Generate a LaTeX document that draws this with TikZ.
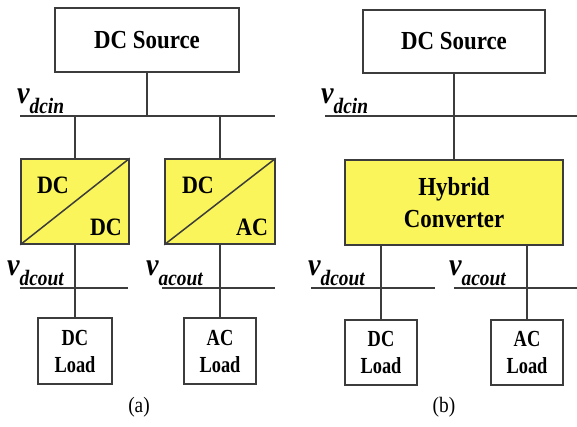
\documentclass[tikz,border=0pt]{standalone}
\usepackage{fontspec}
\setmainfont{Liberation Serif}
\newfontfamily\labfont[FakeStretch=0.88]{Liberation Serif}
\newfontfamily\loadfont[FakeStretch=0.8]{Liberation Serif}
\definecolor{convfill}{RGB}{250,245,90}
\definecolor{ink}{RGB}{60,60,60}

% bus voltage label: large italic v with a lowered subscript
\newcommand{\busv}[1]{{\fontsize{32}{32}\selectfont\bfseries\itshape v}\raisebox{-10pt}{\fontsize{22}{22}\selectfont\bfseries\itshape #1}}

\begin{document}
\begin{tikzpicture}[x=1pt,y=-1pt,
  box/.style={draw=ink,line width=1.5pt,inner sep=0pt,align=center,
              font=\labfont\bfseries\fontsize{26}{32}\selectfont},
  convbox/.style={box,fill=convfill},
  loadbox/.style={box,font=\loadfont\bfseries\fontsize{23}{27}\selectfont},
  convtext/.style={inner sep=0pt,font=\labfont\bfseries\fontsize{25}{27}\selectfont},
  wire/.style={draw=ink,line width=1.5pt},
  vlab/.style={anchor=base west,inner sep=0pt,font=\labfont},
  figcap/.style={inner sep=0pt,font=\labfont\fontsize{22}{22}\selectfont}]
\fill[white] (0,0) rectangle (577,426);
\useasboundingbox (0,0) rectangle (577,426);

% ---------------- (a) separate converters ----------------
\node[box,minimum width=184pt,minimum height=64pt] (srcA) at (147,40) {DC Source};
\node[convbox,minimum width=108pt,minimum height=85pt] (convA) at (75,201.5) {};
\node[convbox,minimum width=110pt,minimum height=85pt] (convB) at (220,201.5) {};
\draw[wire] (convA.south west) -- (convA.north east);
\draw[wire] (convB.south west) -- (convB.north east);
\node[convtext] (convAin)  at (53,185) {DC};
\node[convtext] (convAout) at (106,227) {DC};
\node[convtext] (convBin)  at (198,185) {DC};
\node[convtext] (convBout) at (252,227) {AC};
\node[loadbox,minimum width=74pt,minimum height=66pt] (loadA1) at (75,351) {DC\\Load};
\node[loadbox,minimum width=72pt,minimum height=66pt] (loadA2) at (220,351) {AC\\Load};

\coordinate (inA-l) at (20,116);  \coordinate (inA-r) at (275,116);
\coordinate (dcA-l) at (20,288);  \coordinate (dcA-r) at (128,288);
\coordinate (acA-l) at (162,288); \coordinate (acA-r) at (275,288);
\draw[wire] (inA-l) -- (inA-r);
\draw[wire] (dcA-l) -- (dcA-r);
\draw[wire] (acA-l) -- (acA-r);
\draw[wire] (srcA.south) -- (srcA.south |- inA-l);
\draw[wire] (convA.north |- inA-l) -- (convA.north);
\draw[wire] (convB.north |- inA-l) -- (convB.north);
\draw[wire] (convA.south) -- (loadA1.north);
\draw[wire] (convB.south) -- (loadA2.north);

\node[vlab] (vinA)  at (17,103)  {\busv{dcin}};
\node[vlab] (vdcA)  at (7,275)   {\busv{dcout}};
\node[vlab] (vacA)  at (146,275) {\busv{acout}};
\node[figcap] (capA) at (139,407) {(a)};

% ---------------- (b) hybrid converter ----------------
\node[box,minimum width=182pt,minimum height=63pt] (srcB) at (454,41.5) {DC Source};
\node[convbox,minimum width=218pt,minimum height=85pt] (hyb) at (454,202.5) {Hybrid\\Converter};
\node[loadbox,minimum width=72pt,minimum height=65pt] (loadB1) at (381,352.5) {DC\\Load};
\node[loadbox,minimum width=72pt,minimum height=65pt] (loadB2) at (527,352.5) {AC\\Load};

\coordinate (inB-l) at (325,116); \coordinate (inB-r) at (577,116);
\coordinate (dcB-l) at (311,288); \coordinate (dcB-r) at (435,288);
\coordinate (acB-l) at (454,288); \coordinate (acB-r) at (577,288);
\draw[wire] (inB-l) -- (inB-r);
\draw[wire] (dcB-l) -- (dcB-r);
\draw[wire] (acB-l) -- (acB-r);
\draw[wire] (srcB.south) -- (hyb.north);
\draw[wire] (loadB1.north |- hyb.south) -- (loadB1.north);
\draw[wire] (loadB2.north |- hyb.south) -- (loadB2.north);

\node[vlab] (vinB)  at (321,103) {\busv{dcin}};
\node[vlab] (vdcB)  at (308,275) {\busv{dcout}};
\node[vlab] (vacB)  at (449,275) {\busv{acout}};
\node[figcap] (capB) at (444,407) {(b)};
\end{tikzpicture}
\end{document}
